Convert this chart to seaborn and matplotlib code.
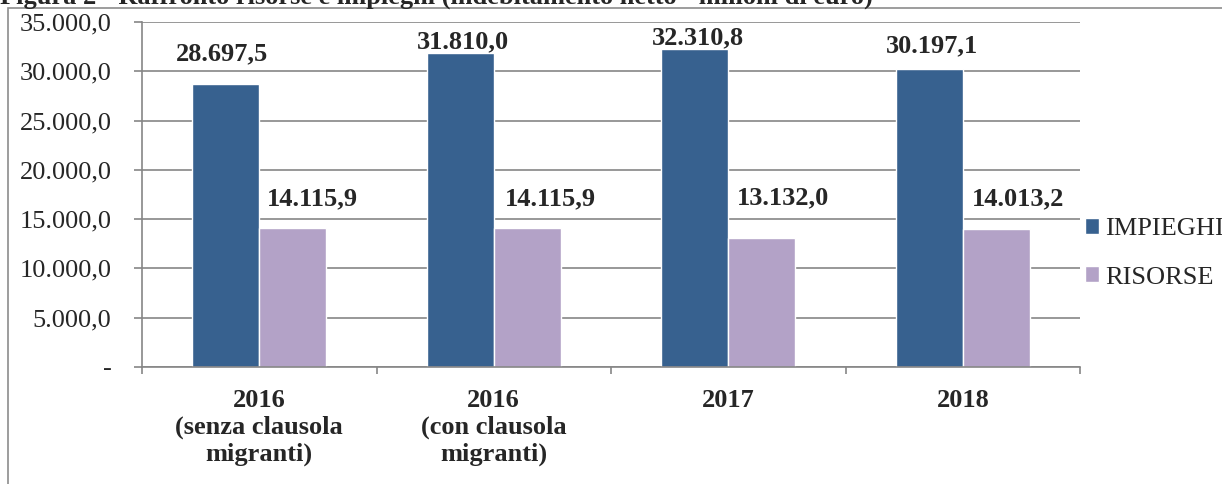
import numpy as np
import pandas as pd
import matplotlib
matplotlib.use('Agg')
import matplotlib.pyplot as plt
import seaborn as sns
from matplotlib.ticker import FuncFormatter
from matplotlib.patches import Rectangle

# data
categories = ['2016\n(senza clausola\nmigranti)', '2016\n(con clausola\nmigranti)', '2017', '2018']
impieghi = [28697.5, 31810.0, 32310.8, 30197.1]
risorse = [14115.9, 14115.9, 13132.0, 14013.2]
series = ['IMPIEGHI', 'RISORSE']
colors = ['#37618F', '#B3A2C7']
title = 'Figura 2 - Raffronto risorse e impieghi (indebitamento netto - milioni di euro)'

# hand placement of the value labels (pixels: dx, gap above bar)
label_nudge = {
    0: [(-4, 24), (3, 5), (3, 4), (3, 17)],
    1: [(20, 23), (23, 23), (21, 33), (22, 24)],
}

df = pd.DataFrame({
    'cat': categories * 2,
    'serie': [series[0]] * len(categories) + [series[1]] * len(categories),
    'val': impieghi + risorse,
})


def it_fmt(v, pos=None):
    # italian number format, zero shown as a dash
    if v == 0:
        return '-'
    s = f'{v:,.1f}'
    return s.replace(',', 'X').replace('.', ',').replace('X', '.')


sns.set_style('white')
plt.rcParams['font.family'] = ['Liberation Serif', 'DejaVu Serif']
grey = '#868686'
fs = 19

fig = plt.figure(figsize=(12.22, 4.84), dpi=100)
ax = fig.add_axes([142 / 1222, 117 / 484, 938 / 1222, 345 / 484])

sns.barplot(data=df, x='cat', y='val', hue='serie', palette=colors,
            saturation=1, width=0.571, ax=ax)

ax.set_xlim(-0.5, 3.5)
ax.set_ylim(0, 35000)
ax.set_yticks(np.arange(0, 35001, 5000))
ax.yaxis.set_major_formatter(FuncFormatter(it_fmt))
ax.set_xlabel('')
ax.set_ylabel('')

ax.yaxis.grid(True, color=grey, lw=1.2)
ax.set_axisbelow(True)
for side in ['top', 'right']:
    ax.spines[side].set_visible(False)
for side in ['left', 'bottom']:
    ax.spines[side].set_color(grey)
    ax.spines[side].set_linewidth(1.2)

ax.tick_params(axis='y', direction='out', length=6, width=1.2, color=grey,
               labelsize=fs, pad=16, left=True)
ax.tick_params(axis='x', which='major', length=0, pad=15.5, labelsize=fs)
ax.set_xticks([-0.5, 0.5, 1.5, 2.5, 3.5], minor=True)
ax.tick_params(axis='x', which='minor', direction='out', length=5, width=1.2,
               color=grey, bottom=True)
for lab in ax.get_xticklabels():
    lab.set_fontweight('bold')
    lab.set_multialignment('center')

# value labels above the bars
for i, cont in enumerate(ax.containers):
    for bar, (dx, dy) in zip(cont, label_nudge[i]):
        h = bar.get_height()
        ax.annotate(it_fmt(h), (bar.get_x() + bar.get_width() / 2, h),
                    xytext=(dx, dy), textcoords='offset pixels',
                    ha='center', va='baseline', fontsize=fs, fontweight='bold')

sns.move_legend(ax, loc='center left', bbox_to_anchor=(0.994, 0.33),
                frameon=False, title=None, fontsize=fs,
                handlelength=0.55, handleheight=0.55, handletextpad=0.2,
                labelspacing=1.0, borderaxespad=0)

# outer frame and clipped caption
fig.add_artist(Rectangle((8 / 1222, -0.1), 1.2, 1 - 8 / 484 + 0.1,
                         transform=fig.transFigure, fill=False,
                         edgecolor='#8c8c8c', lw=1.2))
fig.text(0.0, 1 - 4 / 484, title, ha='left', va='baseline',
         fontsize=fs, fontweight='bold')

fig.savefig('out.png', dpi=100)
